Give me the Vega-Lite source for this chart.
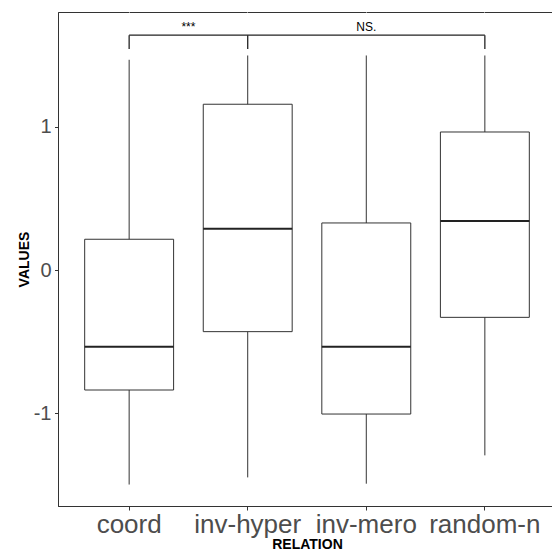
{
  "$schema": "https://vega.github.io/schema/vega-lite/v6.json",
  "width": 498,
  "height": 494,
  "autosize": "none",
  "padding": {"left": 58, "top": 12, "right": 0, "bottom": 44},
  "config": {
    "font": "Liberation Sans",
    "view": {"stroke": "#333333", "strokeWidth": 1}
  },
  "datasets": {
    "stats": [
      {"relation": "coord", "lower": -1.5, "q1": -0.839, "median": -0.536, "q3": 0.215, "upper": 1.47},
      {"relation": "inv-hyper", "lower": -1.45, "q1": -0.431, "median": 0.289, "q3": 1.159, "upper": 1.5},
      {"relation": "inv-mero", "lower": -1.494, "q1": -1.007, "median": -0.536, "q3": 0.329, "upper": 1.5},
      {"relation": "random-n", "lower": -1.296, "q1": -0.331, "median": 0.343, "q3": 0.965, "upper": 1.5}
    ],
    "bracket": [
      {"from": "coord", "to": "random-n", "y": 1.642}
    ],
    "legs": [
      {"relation": "coord", "top": 1.642, "bottom": 1.545},
      {"relation": "inv-hyper", "top": 1.642, "bottom": 1.545},
      {"relation": "random-n", "top": 1.642, "bottom": 1.545}
    ],
    "labels": [
      {"relation": "inv-hyper", "label": "***", "y": 1.671, "kind": "edge"},
      {"relation": "inv-mero", "label": "NS.", "y": 1.671, "kind": "center"}
    ]
  },
  "layer": [
    {
      "data": {"name": "stats"},
      "mark": {"type": "rule", "color": "#333333", "strokeWidth": 1},
      "encoding": {
        "x": {
          "field": "relation",
          "type": "nominal",
          "sort": ["coord", "inv-hyper", "inv-mero", "random-n"],
          "scale": {"type": "band", "paddingInner": 0, "paddingOuter": 0.1},
          "axis": {
            "title": "RELATION",
            "titleFontWeight": "bold",
            "titleFontSize": 14,
            "titleColor": "black",
            "titlePadding": 0,
            "labelFontSize": 26,
            "labelColor": "#4d4d4d",
            "labelAngle": 0,
            "labelPadding": 1,
            "tickSize": 4,
            "tickColor": "#333333",
            "domainColor": "#333333",
            "grid": true,
            "gridColor": "white",
            "gridWidth": 1
          }
        },
        "y": {
          "field": "lower",
          "type": "quantitative",
          "scale": {"domain": [-1.65, 1.804], "nice": false, "zero": false},
          "axis": {
            "title": "VALUES",
            "titleFontWeight": "bold",
            "titleFontSize": 14,
            "titleColor": "black",
            "titlePadding": 2,
            "values": [-1, 0, 1],
            "labelExpr": "toString(datum.value)",
            "labelFontSize": 20,
            "labelColor": "#4d4d4d",
            "labelPadding": 3.5,
            "tickSize": 3.5,
            "tickColor": "#333333",
            "domainColor": "#333333",
            "grid": true,
            "gridColor": "white",
            "gridWidth": 1
          }
        },
        "y2": {"field": "upper"}
      }
    },
    {
      "data": {"name": "stats"},
      "mark": {"type": "bar", "fill": "white", "stroke": "#333333", "strokeWidth": 1, "width": {"band": 0.75}},
      "encoding": {
        "x": {"field": "relation", "type": "nominal", "sort": ["coord", "inv-hyper", "inv-mero", "random-n"]},
        "y": {"field": "q1", "type": "quantitative"},
        "y2": {"field": "q3"}
      }
    },
    {
      "data": {"name": "stats"},
      "mark": {"type": "tick", "color": "#222222", "size": 89, "thickness": 2, "opacity": 1},
      "encoding": {
        "x": {"field": "relation", "type": "nominal", "sort": ["coord", "inv-hyper", "inv-mero", "random-n"]},
        "y": {"field": "median", "type": "quantitative"}
      }
    },
    {
      "data": {"name": "bracket"},
      "mark": {"type": "rule", "color": "#222222", "strokeWidth": 1.3},
      "encoding": {
        "x": {"field": "from", "type": "nominal", "sort": ["coord", "inv-hyper", "inv-mero", "random-n"]},
        "x2": {"field": "to"},
        "y": {"field": "y", "type": "quantitative"}
      }
    },
    {
      "data": {"name": "legs"},
      "mark": {"type": "rule", "color": "#222222", "strokeWidth": 1.3},
      "encoding": {
        "x": {"field": "relation", "type": "nominal", "sort": ["coord", "inv-hyper", "inv-mero", "random-n"]},
        "y": {"field": "top", "type": "quantitative"},
        "y2": {"field": "bottom"}
      }
    },
    {
      "data": {"name": "labels"},
      "transform": [{"filter": "datum.kind === 'edge'"}],
      "mark": {"type": "text", "fontSize": 12, "color": "black", "baseline": "alphabetic", "align": "center"},
      "encoding": {
        "x": {"field": "relation", "type": "nominal", "bandPosition": 0, "sort": ["coord", "inv-hyper", "inv-mero", "random-n"]},
        "y": {"field": "y", "type": "quantitative"},
        "text": {"field": "label"}
      }
    },
    {
      "data": {"name": "labels"},
      "transform": [{"filter": "datum.kind === 'center'"}],
      "mark": {"type": "text", "fontSize": 12, "color": "black", "baseline": "alphabetic", "align": "center"},
      "encoding": {
        "x": {"field": "relation", "type": "nominal", "sort": ["coord", "inv-hyper", "inv-mero", "random-n"]},
        "y": {"field": "y", "type": "quantitative"},
        "text": {"field": "label"}
      }
    }
  ]
}
